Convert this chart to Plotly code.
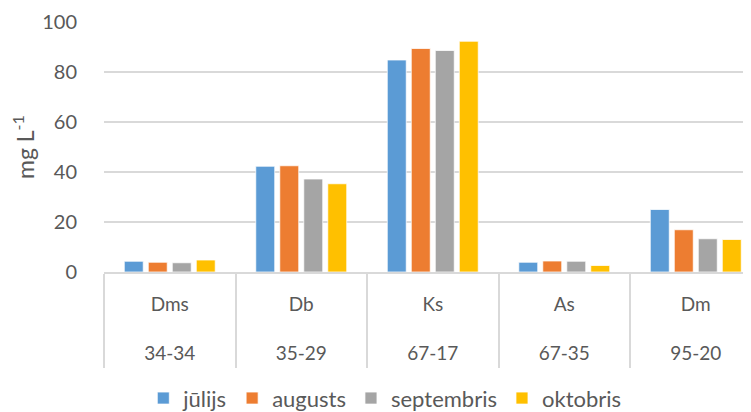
import plotly.graph_objects as go

sites = ["Dms", "Db", "Ks", "As", "Dm"]
codes = ["34-34", "35-29", "67-17", "67-35", "95-20"]
months = ["jūlijs", "augusts", "septembris", "oktobris"]
julijs = [4.3, 42.3, 84.8, 3.9, 25.0]
augusts = [3.9, 42.5, 89.4, 4.4, 16.9]
septembris = [3.7, 37.2, 88.6, 4.3, 13.3]
oktobris = [4.8, 35.3, 92.3, 2.6, 13.0]
colors = ["#5B9BD5", "#ED7D31", "#A5A5A5", "#FFC000"]
y_ticks = [0, 20, 40, 60, 80, 100]

series = [julijs, augusts, septembris, oktobris]
FONT = "Lato"
TXT = "#595959"
GRID = "#D9D9D9"

fig = go.Figure()
for name, vals, col in zip(months, series, colors):
    fig.add_trace(go.Bar(
        x=sites, y=vals, name=name,
        marker=dict(color=col, line=dict(color="white", width=0.75)),
    ))

ticktext = [f"{s}<br><br>{c}" for s, c in zip(sites, codes)]

fig.update_layout(
    width=743, height=404,
    margin=dict(l=96, r=0, t=14, b=140, autoexpand=False),
    paper_bgcolor="white", plot_bgcolor="white",
    barmode="group", bargap=0.27, bargroupgap=0.21,
    font=dict(family=FONT, size=20, color=TXT),
    showlegend=True,
    legend=dict(orientation="h", x=0.434, xanchor="center", y=-0.505, yanchor="middle",
                font=dict(family=FONT, size=22, color=TXT), traceorder="normal",
                itemwidth=30),
    xaxis=dict(
        type="category", range=[-0.5, 4.42], automargin=False,
        tickmode="array", tickvals=sites, ticktext=ticktext,
        tickson="boundaries", ticks="outside", ticklen=94, tickwidth=1.5, tickcolor=GRID,
        ticklabelstandoff=14,
        showline=True, linecolor=GRID, linewidth=1.5,
        showgrid=False, tickfont=dict(family=FONT, size=19, color=TXT),
    ),
    yaxis=dict(
        range=[0, 100], tickmode="array", tickvals=y_ticks, automargin=True,
        showgrid=True, gridcolor=GRID, gridwidth=1.5, zeroline=False,
        ticks="outside", ticklen=22, tickcolor="rgba(0,0,0,0)",
        tickfont=dict(family=FONT, size=20, color=TXT),
        title=dict(text="mg L<sup>-1</sup>", font=dict(family=FONT, size=23, color=TXT), standoff=4),
    ),
)

fig.write_html("out.html")
